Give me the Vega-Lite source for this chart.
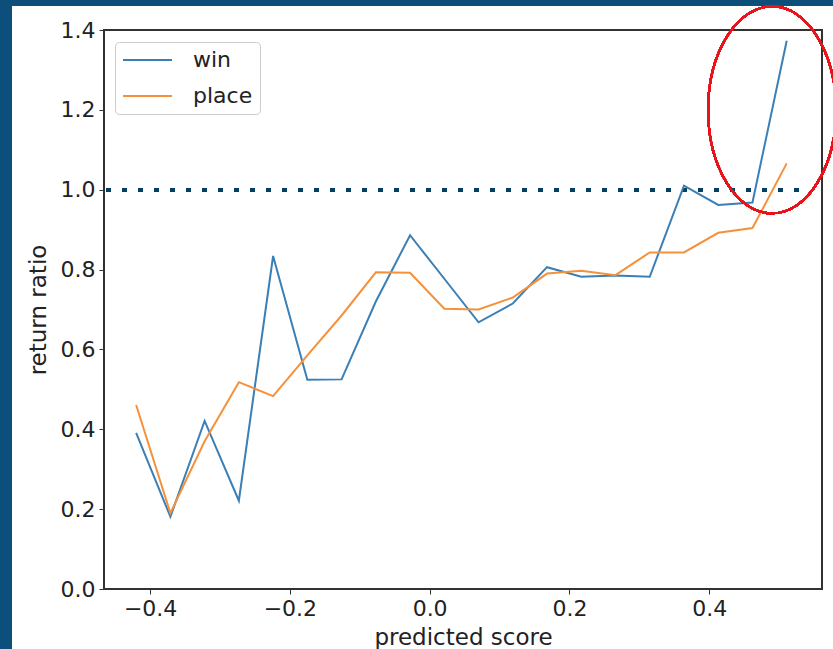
{
  "$schema": "https://vega.github.io/schema/vega-lite/v6.json",
  "width": 718,
  "height": 559,
  "autosize": "none",
  "padding": {"left": 104, "top": 30, "right": 11, "bottom": 60},
  "background": "#0b4f7a",
  "config": {
    "font": "DejaVu Sans",
    "view": {"stroke": null},
    "axis": {
      "grid": false,
      "domain": false,
      "ticks": true,
      "tickColor": "#333",
      "tickSize": 5,
      "labelFontSize": 22,
      "labelColor": "#222",
      "labelPadding": 4,
      "titleFontSize": 23,
      "titleFontWeight": "normal",
      "titleColor": "#222"
    }
  },
  "datasets": {
    "lines": [
      {"score": -0.42, "series": "win", "ratio": 0.391},
      {"score": -0.371, "series": "win", "ratio": 0.181},
      {"score": -0.322, "series": "win", "ratio": 0.421},
      {"score": -0.273, "series": "win", "ratio": 0.221},
      {"score": -0.224, "series": "win", "ratio": 0.834},
      {"score": -0.175, "series": "win", "ratio": 0.524},
      {"score": -0.126, "series": "win", "ratio": 0.525},
      {"score": -0.077, "series": "win", "ratio": 0.72},
      {"score": -0.028, "series": "win", "ratio": 0.886},
      {"score": 0.021, "series": "win", "ratio": 0.777},
      {"score": 0.07, "series": "win", "ratio": 0.668},
      {"score": 0.119, "series": "win", "ratio": 0.715},
      {"score": 0.168, "series": "win", "ratio": 0.806},
      {"score": 0.217, "series": "win", "ratio": 0.782},
      {"score": 0.266, "series": "win", "ratio": 0.785},
      {"score": 0.315, "series": "win", "ratio": 0.782},
      {"score": 0.364, "series": "win", "ratio": 1.01},
      {"score": 0.413, "series": "win", "ratio": 0.962},
      {"score": 0.462, "series": "win", "ratio": 0.968},
      {"score": 0.511, "series": "win", "ratio": 1.373},
      {"score": -0.42, "series": "place", "ratio": 0.461},
      {"score": -0.371, "series": "place", "ratio": 0.19},
      {"score": -0.322, "series": "place", "ratio": 0.37},
      {"score": -0.273, "series": "place", "ratio": 0.518},
      {"score": -0.224, "series": "place", "ratio": 0.483},
      {"score": -0.175, "series": "place", "ratio": 0.585},
      {"score": -0.126, "series": "place", "ratio": 0.685},
      {"score": -0.077, "series": "place", "ratio": 0.793},
      {"score": -0.028, "series": "place", "ratio": 0.792},
      {"score": 0.021, "series": "place", "ratio": 0.702},
      {"score": 0.07, "series": "place", "ratio": 0.7},
      {"score": 0.119, "series": "place", "ratio": 0.73},
      {"score": 0.168, "series": "place", "ratio": 0.79},
      {"score": 0.217, "series": "place", "ratio": 0.797},
      {"score": 0.266, "series": "place", "ratio": 0.786},
      {"score": 0.315, "series": "place", "ratio": 0.843},
      {"score": 0.364, "series": "place", "ratio": 0.843},
      {"score": 0.413, "series": "place", "ratio": 0.892},
      {"score": 0.462, "series": "place", "ratio": 0.904},
      {"score": 0.511, "series": "place", "ratio": 1.066}
    ]
  },
  "data": {"name": "lines"},
  "layer": [
    {
      "mark": {"type": "rect", "color": "white"},
      "encoding": {
        "x": {"datum": -0.5975, "type": "quantitative"},
        "x2": {"datum": 0.7},
        "y": {"datum": 1.46, "type": "quantitative"},
        "y2": {"datum": -0.2}
      }
    },
    {
      "mark": {"type": "rect", "fill": null, "filled": false, "stroke": "#333", "strokeWidth": 1.2},
      "encoding": {
        "x": {"datum": -0.466, "type": "quantitative"},
        "x2": {"datum": 0.5615},
        "y": {"datum": 1.4, "type": "quantitative"},
        "y2": {"datum": 0}
      }
    },
    {
      "mark": {"type": "rule", "color": "#073f63", "strokeWidth": 3.4, "strokeDash": [3.4, 12.6]},
      "encoding": {
        "x": {"datum": -0.4621, "type": "quantitative"},
        "x2": {"datum": 0.5278},
        "y": {"datum": 1.0, "type": "quantitative"}
      }
    },
    {
      "mark": {"type": "line", "strokeWidth": 2, "clip": false},
      "encoding": {
        "x": {
          "field": "score",
          "type": "quantitative",
          "scale": {"domain": [-0.466, 0.5615], "nice": false, "zero": false},
          "axis": {"values": [-0.4, -0.2, 0, 0.2, 0.4], "format": ".1f", "title": "predicted score", "zindex": 2, "titleBaseline": "alphabetic", "titleY": 55.5}
        },
        "y": {
          "field": "ratio",
          "type": "quantitative",
          "scale": {"domain": [0, 1.4], "nice": false, "zero": false},
          "axis": {"values": [0, 0.2, 0.4, 0.6, 0.8, 1.0, 1.2, 1.4], "format": ".1f", "title": "return ratio", "zindex": 2, "titleBaseline": "alphabetic", "titleX": -59, "titleY": 279.5}
        },
        "color": {
          "field": "series",
          "type": "nominal",
          "sort": ["win", "place"],
          "scale": {"domain": ["win", "place"], "range": ["#3a7fb5", "#f5913a"]},
          "legend": {
            "title": null,
            "orient": "none",
            "legendX": 11,
            "legendY": 12,
            "symbolType": "M -1 0 L 3.9 0",
            "symbolSize": 400,
            "symbolStrokeWidth": 2,
            "labelFontSize": 22,
            "labelColor": "#222",
            "labelOffset": 49,
            "rowPadding": 14,
            "strokeColor": "#cccccc",
            "fillColor": "white",
            "cornerRadius": 4,
            "padding": 7
          }
        }
      }
    },
    {
      "mark": {
        "type": "point",
        "shape": "M -0.618 0 A 0.618 1 0 1 1 0.618 0 A 0.618 1 0 1 1 -0.618 0 Z",
        "size": 42849,
        "filled": false,
        "stroke": "#e8141b",
        "strokeWidth": 2,
        "opacity": 1
      },
      "encoding": {
        "x": {"datum": 0.49, "type": "quantitative"},
        "y": {"datum": 1.2, "type": "quantitative"}
      }
    }
  ]
}
